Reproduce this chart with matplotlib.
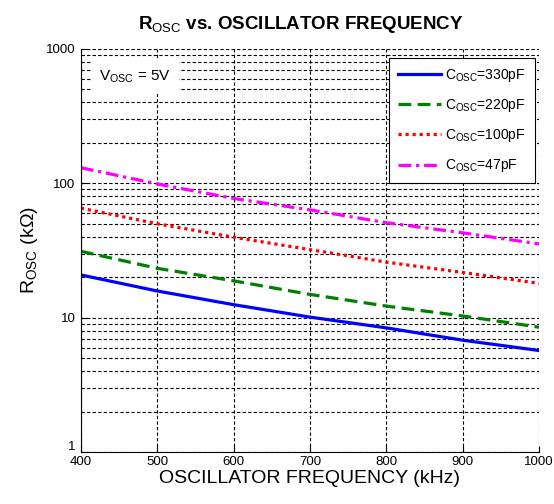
import matplotlib.pyplot as plt
import matplotlib.transforms as mtransforms
from matplotlib.ticker import LogLocator, NullFormatter, FixedLocator

plt.rcParams['font.family'] = ['Liberation Sans', 'DejaVu Sans']
plt.rcParams['mathtext.fontset'] = 'custom'
plt.rcParams['mathtext.rm'] = 'Liberation Sans'
plt.rcParams['mathtext.bf'] = 'Liberation Sans:bold'

freq_khz = [400, 500, 600, 700, 800, 900, 1000]
r_330pf = [20.8, 15.8, 12.5, 10.1, 8.4, 6.8, 5.7]
r_220pf = [31.2, 23.3, 18.8, 14.9, 12.2, 10.3, 8.5]
r_100pf = [65.3, 50.0, 39.7, 32.1, 25.9, 21.7, 18.0]
r_47pf = [130.6, 98.9, 77.1, 63.4, 50.9, 42.8, 35.4]

x_ticks = [400, 500, 600, 700, 800, 900, 1000]
y_ticks = [1, 10, 100, 1000]

fig = plt.figure(figsize=(5.54, 5.04), dpi=100)
ax = fig.add_axes([0.146, 0.103, 0.827, 0.800])

ax.plot(freq_khz, r_330pf, color='#0000ff', linestyle='-', linewidth=2.3,
        label=r'C$_{\rm OSC}$=330pF')
ax.plot(freq_khz, r_220pf, color='#008000', linestyle=(0, (4, 2)), linewidth=2.3,
        label=r'C$_{\rm OSC}$=220pF')
ax.plot(freq_khz, r_100pf, color='#ff0000', linestyle=(0, (1, 1.2)), linewidth=2.3,
        label=r'C$_{\rm OSC}$=100pF')
ax.plot(freq_khz, r_47pf, color='#ff00ff', linestyle=(0, (4, 1.5, 1, 1.5)), linewidth=2.3,
        label=r'C$_{\rm OSC}$=47pF')

ax.set_yscale('log')
ax.set_xlim(400, 1000)
ax.set_ylim(1, 1000)
ax.xaxis.set_major_locator(FixedLocator(x_ticks))
ax.yaxis.set_major_locator(FixedLocator(y_ticks))
ax.set_yticklabels([str(v) for v in y_ticks])
ax.yaxis.set_minor_locator(LogLocator(base=10, subs=range(2, 10)))
ax.yaxis.set_minor_formatter(NullFormatter())

ax.grid(True, which='major', axis='both', color='black', linestyle=(0, (3, 2)), linewidth=0.8)
ax.grid(True, which='minor', axis='y', color='black', linestyle=(0, (3, 2)), linewidth=0.8)
ax.set_axisbelow(True)

ax.spines['top'].set_visible(False)
ax.spines['right'].set_visible(False)
ax.tick_params(which='both', direction='in', labelsize=9.5, top=False, right=False)
ax.tick_params(axis='x', which='major', length=4, pad=3)
ax.tick_params(axis='y', which='major', length=4, pad=4)
ax.tick_params(which='minor', length=2)

# lift the "1" label a little so it clears the "400" label
lbl_one = ax.get_yticklabels()[0]
lbl_one.set_transform(lbl_one.get_transform() +
                      mtransforms.ScaledTranslation(0, 5 / 72, fig.dpi_scale_trans))

ax.set_title(r'R$_{\rm OSC}$ vs. OSCILLATOR FREQUENCY', fontsize=13.5, fontweight='bold',
             pad=14, x=0.48)
ax.set_xlabel('OSCILLATOR FREQUENCY (kHz)', fontsize=14, labelpad=1)
ax.set_ylabel(r'R$_{\rm OSC}$ (k$\Omega$)', fontsize=14, labelpad=4)

ax.text(0.04, 0.93, r'V$_{\rm OSC}$ = 5V', transform=ax.transAxes, fontsize=11,
        va='center', ha='left',
        bbox=dict(facecolor='white', edgecolor='none', pad=6))

leg = ax.legend(loc='upper right', fontsize=10, frameon=True, fancybox=False,
                edgecolor='black', framealpha=1, handlelength=3.1, handletextpad=0.3,
                labelspacing=0.95, borderpad=0.65, borderaxespad=0,
                bbox_to_anchor=(0.991, 0.978))
leg.get_frame().set_linewidth(0.8)

fig.savefig('out.png', dpi=100)
